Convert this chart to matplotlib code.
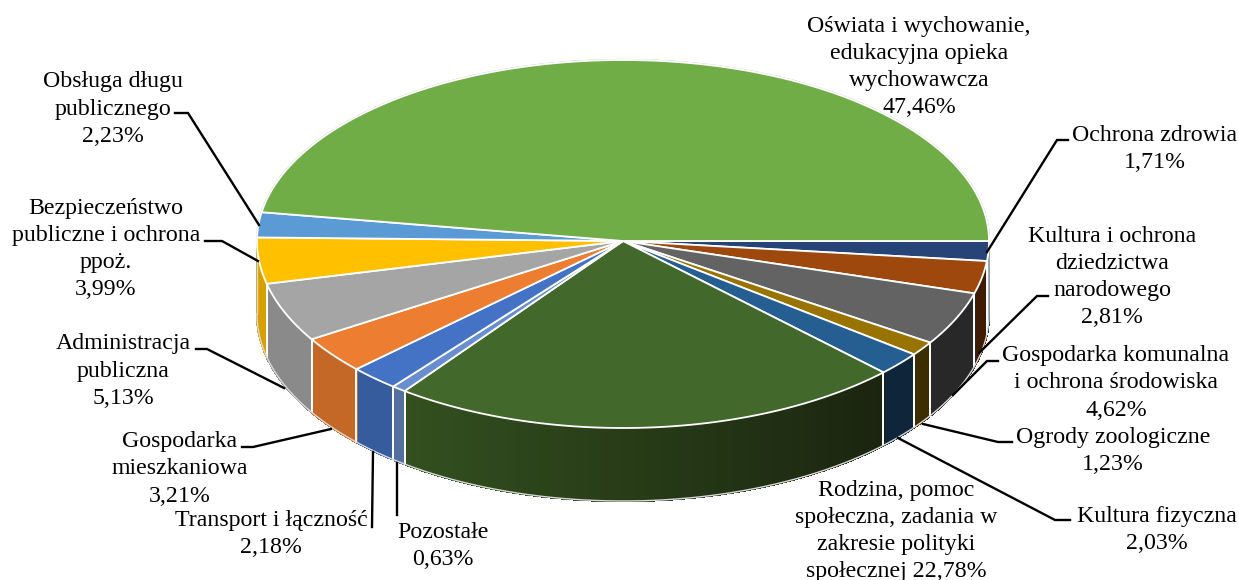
import numpy as np
import matplotlib
matplotlib.use("Agg")
import matplotlib.pyplot as plt
from matplotlib.patches import Polygon
from matplotlib.colors import to_rgb

# Slices in clockwise order, starting at the right-hand edge of the pie
values = [1.71, 2.81, 4.62, 1.23, 2.03, 22.78, 0.63, 2.18, 3.21, 5.13, 3.99, 2.23, 47.46]
names = [
    "Ochrona zdrowia",
    "Kultura i ochrona\ndziedzictwa\nnarodowego",
    "Gospodarka komunalna\ni ochrona środowiska",
    "Ogrody zoologiczne",
    "Kultura fizyczna",
    "Rodzina, pomoc\nspołeczna, zadania w\nzakresie polityki\nspołecznej",
    "Pozostałe",
    "Transport i łączność",
    "Gospodarka\nmieszkaniowa",
    "Administracja\npubliczna",
    "Bezpieczeństwo\npubliczne i ochrona\nppoż.",
    "Obsługa długu\npublicznego",
    "Oświata i wychowanie,\nedukacyjna opieka\nwychowawcza",
]
top_colors = ["#264478", "#9e480e", "#636363", "#997300", "#255e91", "#43682b", "#698ed0",
              "#4472c4", "#ed7d31", "#a5a5a5", "#ffc000", "#5b9bd5", "#70ad47"]
wall_colors = ["#16294a", "#3f1d05", "#282828", "#3d2e00", "#0f263a", "#33501f", "#54709f",
               "#365c9d", "#c46828", "#8a8a8a", "#d6a100", "#4a7cab", "#5a8a39"]
wall_end_dark = {5: "#1a240f"}

label_x = [1155, 1112, 1116, 1113, 1157, 896, 443, 271, 180, 123, 106, 113, 919]
label_y = [149, 277, 383, 451, 530, 531, 546, 534, 469, 371, 249, 109, 67]
leaders = [
    [(987, 252), (1057, 140), (1068, 140)],
    [(979, 353), (1037, 296), (1048, 296)],
    [(953, 395), (987, 361), (998, 361)],
    [(923, 424), (998, 442), (1012, 442)],
    [(898, 438), (1055, 520), (1070, 520)],
    None,
    [(397, 463), (397, 515)],
    [(373, 452), (372, 527)],
    [(331, 429), (253, 447), (242, 447)],
    [(284, 388), (207, 349), (196, 349)],
    [(258, 261), (222, 241), (205, 241)],
    [(259, 225), (188, 113), (175, 113)],
    None,
]

CX, CY, RX, RY_FRONT, RY_BACK, DEPTH = 623, 241, 366, 187, 181, 73
FONT = "Liberation Serif"

fig = plt.figure(figsize=(12.39, 5.8), dpi=100)
ax = fig.add_axes([0, 0, 1, 1])
ax.set_xlim(0, 1239)
ax.set_ylim(580, 0)
ax.axis("off")


def rim(deg):
    # perspective: the back half of the top face is slightly flatter than the front
    t = np.radians(deg)
    s = np.sin(t)
    return CX + RX * np.cos(t), CY + np.where(s > 0, RY_FRONT, RY_BACK) * s


edges = np.concatenate([[0], np.cumsum(values)]) / sum(values) * 360

# Side walls, only the part facing the viewer (0..180 degrees)
for i in range(len(values)):
    a0, a1 = edges[i], min(edges[i + 1], 180)
    if a0 >= 180:
        continue
    ts = np.linspace(a0, a1, max(2, int((a1 - a0) * 3)))
    c0 = np.array(to_rgb(wall_colors[i]))
    c1 = np.array(to_rgb(wall_end_dark.get(i, wall_colors[i])))
    for j in range(len(ts) - 1):
        x0, y0 = rim(ts[j])
        x1, y1 = rim(ts[j + 1])
        f = j / max(1, len(ts) - 2)
        # the long wall runs from light (left) to dark (right)
        col = c1 * (1 - f) + c0 * f
        ax.add_patch(Polygon([(x0, y0), (x1, y1), (x1, y1 + DEPTH), (x0, y0 + DEPTH)],
                             closed=True, facecolor=col, edgecolor=col, lw=1.0,
                             antialiased=False, zorder=2))
    # separators between walls
    for a in (a0, a1):
        if a < 180 and a > 0:
            x, y = rim(a)
            ax.plot([x, x], [y, y + DEPTH], color="white", lw=1.3, zorder=3)

# Pale outline below the wall and at the ends
ts = np.linspace(0, 180, 400)
xs, ys = rim(ts)
ax.plot(np.r_[xs[0], xs], np.r_[ys[0], ys + DEPTH], color="#d9d9d9", lw=1.0, zorder=3)
ax.plot([xs[-1], xs[-1]], [ys[-1], ys[-1] + DEPTH], color="#d9d9d9", lw=1.0, zorder=3)

# Pale hairline behind the back of the top face
ts = np.linspace(180, 360, 400)
xs, ys = rim(ts)
ax.plot(xs, ys, color="#c8c8c8", lw=1.6, zorder=3)

# Top face
for i in range(len(values)):
    ts = np.linspace(edges[i], edges[i + 1], max(3, int((edges[i + 1] - edges[i]) * 3)))
    xs, ys = rim(ts)
    pts = np.column_stack([np.r_[CX, xs], np.r_[CY, ys]])
    ax.add_patch(Polygon(pts, closed=True, facecolor=top_colors[i], edgecolor="white",
                         lw=1.3, joinstyle="round", zorder=4))

# Leaders and labels
for i in range(len(values)):
    if leaders[i] is not None:
        lx, ly = zip(*leaders[i])
        ax.plot(lx, ly, color="black", lw=1.7, zorder=5, solid_joinstyle="miter")
    pct = f"{values[i]:.2f}".replace(".", ",") + "%"
    sep = " " if names[i].endswith("społecznej") else "\n"
    ax.text(label_x[i], label_y[i], names[i] + sep + pct, ha="center", va="center",
            family=FONT, fontsize=17.2, linespacing=1.38, color="black", zorder=6)

fig.savefig("out.png", dpi=100)
